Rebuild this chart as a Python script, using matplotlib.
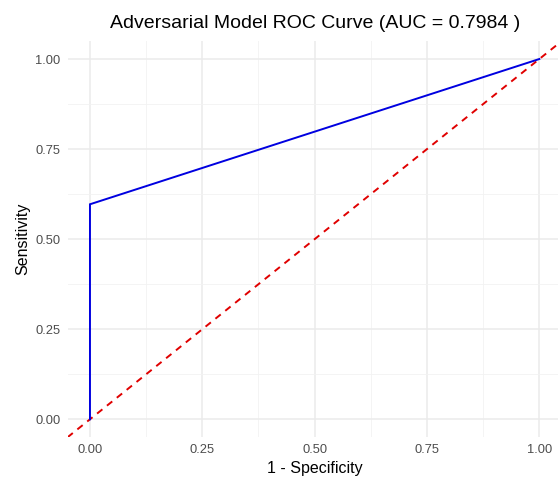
import matplotlib
matplotlib.use("Agg")
import matplotlib.pyplot as plt

fpr = [0.0, 0.0, 1.0]
tpr = [0.0, 0.5968, 1.0]
auc = 0.7984
ticks = [0.0, 0.25, 0.5, 0.75, 1.0]
tick_labels = ["0.00", "0.25", "0.50", "0.75", "1.00"]
minor = [0.125, 0.375, 0.625, 0.875]

plt.rcParams['font.family'] = ['Liberation Sans', 'DejaVu Sans']

fig = plt.figure(figsize=(5.58, 4.82), dpi=100)
ax = fig.add_axes([67.5/558, 44.7/482, 494.3/558, 396.3/482])
ax.set_xlim(-0.05, 1.05)
ax.set_ylim(-0.05, 1.05)

for s in ax.spines.values():
    s.set_visible(False)
ax.set_xticks(ticks)
ax.set_xticklabels(tick_labels)
ax.set_yticks(ticks)
ax.set_yticklabels(tick_labels)
ax.set_xticks(minor, minor=True)
ax.set_yticks(minor, minor=True)
ax.tick_params(which='both', length=0)
ax.tick_params(axis='both', labelsize=9.3, colors='#4D4D4D', pad=5)
ax.grid(which='major', color='#EBEBEB', lw=1.1)
ax.grid(which='minor', color='#F2F2F2', lw=0.6)
ax.set_axisbelow(True)

ax.axline((0, 0), (1, 1), color='#E00000', lw=1.4, ls=(0, (3.5, 3)))
ax.plot(fpr, tpr, color='#0000E0', lw=1.4, solid_joinstyle='miter')

ax.set_xlabel("1 - Specificity", fontsize=11.5, color='black', labelpad=3.5)
ax.set_ylabel("Sensitivity", fontsize=11.5, color='black', labelpad=3.6)
ax.set_title(f"Adversarial Model ROC Curve (AUC = {auc} )", fontsize=14, color='black', pad=9)

fig.savefig("out.png", dpi=100)
